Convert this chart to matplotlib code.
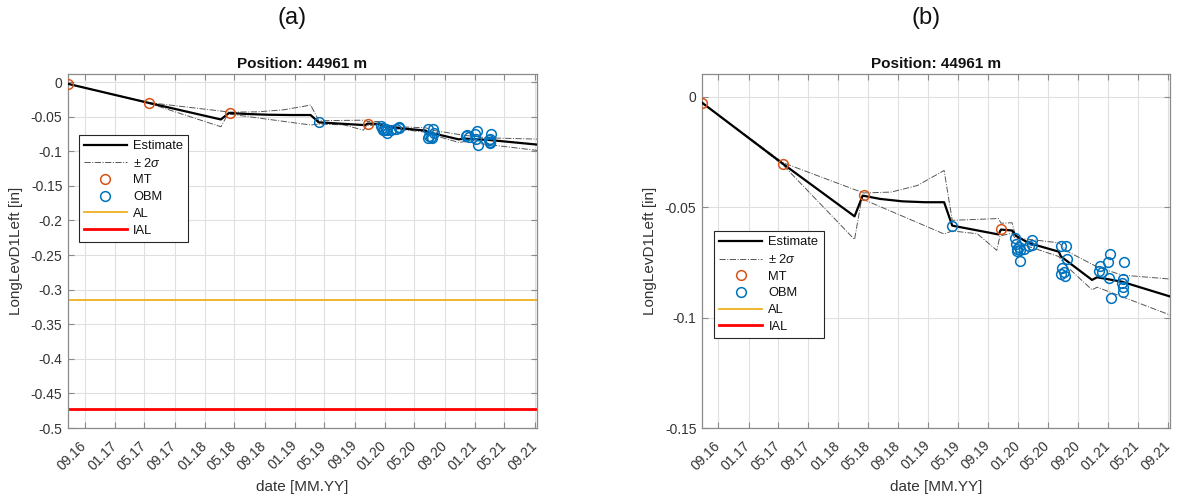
import numpy as np
import pandas as pd
import matplotlib
matplotlib.use('Agg')
import matplotlib.pyplot as plt
import matplotlib.dates as mdates
from matplotlib.ticker import FuncFormatter, MultipleLocator

plt.rcParams['font.family'] = ['Liberation Sans', 'DejaVu Sans']
plt.rcParams['axes.unicode_minus'] = False
plt.rcParams['mathtext.fontset'] = 'custom'
plt.rcParams['mathtext.rm'] = 'Liberation Sans'
plt.rcParams['mathtext.it'] = 'Liberation Sans:italic'

# ── data ──────────────────────────────────────────────────────────────────────
mt_dates = ['2016-06-26', '2017-05-21', '2018-04-14', '2019-10-24']
mt_vals = [-0.0026, -0.0303, -0.0443, -0.0600]

obm_dates = ['2019-04-09',
             '2019-12-19', '2019-12-23', '2019-12-30', '2020-01-10', '2020-01-07',
             '2019-12-27', '2020-01-10', '2020-02-27', '2020-02-27', '2020-02-16',
             '2020-01-25',
             '2020-06-23', '2020-07-15', '2020-07-18', '2020-06-30', '2020-07-07',
             '2020-06-26', '2020-07-11',
             '2021-01-10', '2021-01-02', '2020-11-30', '2020-11-27', '2020-12-08',
             '2021-01-04', '2021-03-09', '2021-03-02', '2021-02-26', '2021-03-02',
             '2021-03-05', '2021-01-13']
obm_vals = [-0.0583,
            -0.0640, -0.0666, -0.0690, -0.0693, -0.0678,
            -0.0700, -0.0743, -0.0648, -0.0671, -0.0674,
            -0.0690,
            -0.0675, -0.0675, -0.0734, -0.0776, -0.0791,
            -0.0802, -0.0811,
            -0.0713, -0.0748, -0.0766, -0.0787, -0.0791,
            -0.0819, -0.0750, -0.0826, -0.0844, -0.0862,
            -0.0882, -0.0909]

est_dates = ['2016-06-26', '2017-05-21', '2018-03-08', '2018-04-10', '2018-06-20',
             '2018-09-19', '2018-12-19', '2019-03-07', '2019-04-09', '2019-10-14',
             '2019-10-24', '2019-12-08', '2019-12-25', '2020-02-14', '2020-06-15',
             '2020-06-24', '2020-10-28', '2020-11-18', '2021-02-26', '2021-09-10']
est_vals = [-0.0026, -0.0303, -0.0541, -0.0447, -0.0462,
            -0.0473, -0.0477, -0.0477, -0.0583, -0.0623,
            -0.0601, -0.0605, -0.0630, -0.0662, -0.0701,
            -0.0723, -0.0829, -0.0817, -0.0837, -0.0904]

up_dates = ['2016-06-26', '2017-05-21', '2018-04-14', '2018-08-04', '2018-11-19',
            '2019-03-07', '2019-04-09', '2019-10-14', '2019-10-24', '2019-12-08',
            '2019-12-25', '2020-02-14', '2020-06-15', '2020-07-20', '2020-11-18',
            '2021-02-26', '2021-09-10']
up_vals = [-0.0026, -0.0298, -0.0435, -0.0431, -0.0401,
           -0.0333, -0.0559, -0.0551, -0.0572, -0.0570,
           -0.0640, -0.0645, -0.0661, -0.0700, -0.0770,
           -0.0807, -0.0825]

lo_dates = ['2016-06-26', '2017-05-21', '2018-03-08', '2018-04-06', '2019-03-07',
            '2019-04-09', '2019-07-20', '2019-10-07', '2019-10-20', '2019-12-08',
            '2019-12-27', '2020-02-14', '2020-06-15', '2020-07-10', '2020-10-28',
            '2020-11-18', '2021-09-10']
lo_vals = [-0.0026, -0.0308, -0.0646, -0.0461, -0.0621,
           -0.0607, -0.0620, -0.0695, -0.0630, -0.0617,
           -0.0655, -0.0678, -0.0723, -0.0760, -0.0874,
           -0.0862, -0.0988]

AL = -0.315
IAL = -0.4724
tick_dates = pd.date_range('2016-09-01', '2021-09-01', freq='4MS')

mt_d = pd.to_datetime(mt_dates)
obm_d = pd.to_datetime(obm_dates)
est_d = pd.to_datetime(est_dates)
up_d = pd.to_datetime(up_dates)
lo_d = pd.to_datetime(lo_dates)
x0, x1 = est_d[0], est_d[-1]

AXCOL = '#8a8a8a'
TXTCOL = '#333333'


def panel(ax, ylim, ystep, leg_anchor):
    ax.plot(est_d, est_vals, color='black', lw=1.6, label='Estimate', zorder=4)
    ax.plot(up_d, up_vals, color='#555555', lw=0.7, ls='-.', label=r'$\pm$ 2$\sigma$', zorder=3)
    ax.plot(lo_d, lo_vals, color='#555555', lw=0.7, ls='-.', zorder=3)
    ax.plot(mt_d, mt_vals, 'o', ms=7, mfc='none', mec='#D95319', mew=1.1, label='MT', zorder=5)
    ax.plot(obm_d, obm_vals, 'o', ms=7, mfc='none', mec='#0072BD', mew=1.1, label='OBM', zorder=5)
    ax.plot([x0, x1], [AL, AL], color='#EDB120', lw=1.3, label='AL', zorder=2)
    ax.plot([x0, x1], [IAL, IAL], color='#FF0000', lw=2.0, label='IAL', zorder=2)

    ax.set_xlim(x0, x1)
    ax.set_ylim(*ylim)
    ax.set_xticks(tick_dates)
    ax.xaxis.set_major_formatter(mdates.DateFormatter('%m.%y'))
    ax.yaxis.set_major_locator(MultipleLocator(ystep))
    ax.yaxis.set_major_formatter(FuncFormatter(lambda v, _: '0' if abs(v) < 1e-9 else f'{v:g}'))
    for lab in ax.get_xticklabels():
        lab.set_rotation(45)
        lab.set_ha('right')
        lab.set_va('center')
        lab.set_rotation_mode('anchor')
    ax.tick_params(axis='both', direction='in', length=4, width=0.8, color=AXCOL,
                   labelcolor=TXTCOL, labelsize=10, top=True, right=True)
    ax.tick_params(axis='x', pad=11)
    ax.tick_params(axis='y', pad=4)
    for s in ax.spines.values():
        s.set_color(AXCOL)
        s.set_linewidth(0.9)
    ax.grid(True, color='#e0e0e0', lw=0.8)
    ax.set_axisbelow(True)

    ax.set_title('Position: 44961 m', fontsize=11, fontweight='bold', color='#111111', pad=4)
    ax.set_xlabel('date [MM.YY]', fontsize=11, color=TXTCOL, labelpad=5)
    ax.set_ylabel('LongLevD1Left [in]', fontsize=11, color=TXTCOL)

    leg = ax.legend(loc='upper left', bbox_to_anchor=leg_anchor, fontsize=9.3,
                    handlelength=3.3, handletextpad=0.5, labelspacing=0.36,
                    borderpad=0.4, borderaxespad=0, fancybox=False, framealpha=1,
                    edgecolor='#262626')
    leg.get_frame().set_linewidth(0.8)
    for t in leg.get_texts():
        t.set_color('#111111')


fig = plt.figure(figsize=(11.8, 4.99), dpi=100)
ax1 = fig.add_axes([68 / 1180, 71 / 499, 469 / 1180, 354 / 499])
ax2 = fig.add_axes([702 / 1180, 71 / 499, 468 / 1180, 354 / 499])

panel(ax1, (-0.5, 0.0116), 0.05, (0.023, 0.828))
panel(ax2, (-0.15, 0.0104), 0.05, (0.026, 0.556))

ax1.yaxis.set_label_coords(-0.095, 0.5)
ax2.yaxis.set_label_coords(-0.096, 0.5)

fig.text(292 / 1180, 1 - 18 / 499, '(a)', fontsize=17, ha='center', va='center', color='#111111')
fig.text(926 / 1180, 1 - 18 / 499, '(b)', fontsize=17, ha='center', va='center', color='#111111')

fig.savefig('out.png', dpi=100)
